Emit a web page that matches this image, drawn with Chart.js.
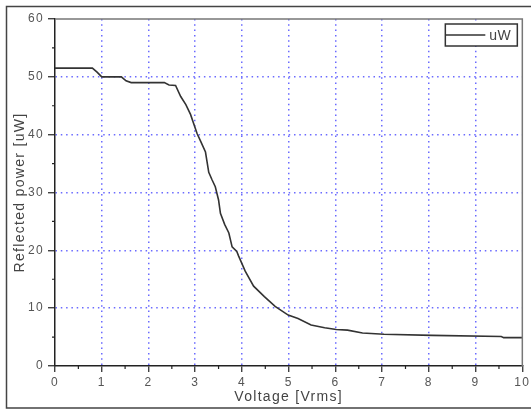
<!DOCTYPE html>
<html lang="en">
<head>
    <title>Reflected power vs voltage</title>
    <script src="https://cdn.jsdelivr.net/npm/chart.js"></script>
    <style>
        body { margin: 0; background: #fff; }
        #wrap { width: 532px; height: 410px; }
    </style>
</head>
<body>
    <div id="wrap">
        <canvas id="powerChart" width="532" height="410"></canvas>
    </div>

    <script>
        // values
        const voltage = [0, 0.8, 0.9, 1.0, 1.42, 1.52, 1.63, 2.34, 2.44, 2.58, 2.69, 2.8, 2.9, 3.04, 3.12, 3.22,
            3.29, 3.36, 3.43, 3.5, 3.54, 3.63, 3.72, 3.79, 3.89, 3.93, 4.07, 4.25, 4.48, 4.71, 4.99, 5.2,
            5.48, 5.77, 6.02, 6.26, 6.58, 7.04, 8.07, 9.55, 9.6, 10];
        const power = [51.5, 51.5, 50.8, 50.0, 50.0, 49.3, 49.0, 49.0, 48.6, 48.5, 46.6, 45.2, 43.5, 40.2, 38.8, 37.0,
            33.5, 32.2, 31.0, 28.7, 26.4, 24.5, 23.0, 20.6, 19.8, 19.0, 16.4, 13.8, 12.0, 10.3, 8.8, 8.2,
            7.1, 6.6, 6.3, 6.2, 5.7, 5.5, 5.3, 5.1, 4.9, 4.9];
        const seriesName = 'uW';
        const xTitle = 'Voltage [Vrms]';
        const yTitle = 'Reflected power [uW]';

        const gridBlue = '#6a6aff';
        const fontFamily = '"Liberation Sans", Arial, sans-serif';

        // frame, top/right box edges, minor ticks and boxed legend
        const decorations = {
            id: 'decorations',
            beforeDraw(chart) {
                // the original plot uses loosely spaced lettering
                chart.ctx.letterSpacing = '1.3px';
            },
            afterDraw(chart) {
                const ctx = chart.ctx;
                const area = chart.chartArea;
                const xs = chart.scales.x;
                const ys = chart.scales.y;
                ctx.save();

                // outer frame
                ctx.strokeStyle = '#444';
                ctx.lineWidth = 1.5;
                ctx.beginPath();
                ctx.moveTo(531, 6.5);
                ctx.lineTo(6.5, 6.5);
                ctx.lineTo(6.5, 408);
                ctx.lineTo(531, 408);
                ctx.stroke();

                // top and right edge of plot box
                ctx.strokeStyle = '#777';
                ctx.lineWidth = 1.5;
                ctx.beginPath();
                ctx.moveTo(area.left, area.top);
                ctx.lineTo(area.right, area.top);
                ctx.lineTo(area.right, area.bottom);
                ctx.stroke();

                // minor ticks
                ctx.strokeStyle = '#222';
                ctx.lineWidth = 1.2;
                ctx.beginPath();
                for (let v = 0.5; v < 10; v += 1) {
                    const px = xs.getPixelForValue(v);
                    ctx.moveTo(px, area.bottom);
                    ctx.lineTo(px, area.bottom + 3);
                }
                for (let v = 5; v < 60; v += 10) {
                    const py = ys.getPixelForValue(v);
                    ctx.moveTo(area.left - 3, py);
                    ctx.lineTo(area.left, py);
                }
                ctx.stroke();

                // legend box
                const bw = 72, bh = 22;
                const bx = area.right - 5 - bw;
                const by = area.top + 5;
                ctx.fillStyle = '#fff';
                ctx.fillRect(bx, by, bw, bh);
                ctx.strokeStyle = '#333';
                ctx.lineWidth = 1.5;
                ctx.strokeRect(bx, by, bw, bh);
                ctx.beginPath();
                ctx.moveTo(bx, by + bh / 2);
                ctx.lineTo(bx + 40, by + bh / 2);
                ctx.stroke();
                ctx.fillStyle = '#444';
                ctx.letterSpacing = '0.5px';
                ctx.font = '14px ' + fontFamily;
                ctx.textBaseline = 'middle';
                ctx.fillText(chart.data.datasets[0].label, bx + 44, by + bh / 2 + 1);

                ctx.restore();
            }
        };

        const powerCtx = document.getElementById('powerChart').getContext('2d');

        let powerChart = new Chart(powerCtx, {
            type: 'line',
            data: {
                datasets: [{
                    label: seriesName,
                    data: voltage.map((v, i) => ({ x: v, y: power[i] })),
                    borderColor: '#333',
                    borderWidth: 1.6,
                    pointRadius: 0,
                    tension: 0,
                    fill: false
                }]
            },
            options: {
                responsive: false,
                animation: false,
                layout: {
                    padding: { left: 6, top: 19, right: 7, bottom: 2 }
                },
                plugins: {
                    legend: { display: false },
                    tooltip: { enabled: false }
                },
                scales: {
                    x: {
                        type: 'linear',
                        min: 0,
                        max: 10,
                        afterFit: (scale) => { scale.height = 42; },
                        ticks: {
                            stepSize: 1,
                            maxRotation: 0,
                            padding: 3,
                            color: '#555',
                            font: { family: fontFamily, size: 12 }
                        },
                        grid: {
                            color: (c) => (c.tick && (c.tick.value === 0 || c.tick.value === 10)) ? 'rgba(0,0,0,0)' : gridBlue,
                            lineWidth: 1.5,
                            tickLength: 6,
                            tickColor: '#222',
                            tickWidth: 1.2,
                            tickBorderDash: []
                        },
                        border: { color: '#222', width: 1.5, dash: [1.5, 3.8] },
                        title: {
                            display: true,
                            text: xTitle,
                            color: '#444',
                            padding: { top: 0, bottom: 2 },
                            font: { family: fontFamily, size: 14 }
                        }
                    },
                    y: {
                        min: 0,
                        max: 60,
                        afterFit: (scale) => { scale.width = 49; },
                        ticks: {
                            stepSize: 10,
                            padding: 4,
                            color: '#555',
                            font: { family: fontFamily, size: 12 }
                        },
                        grid: {
                            color: (c) => (c.tick && (c.tick.value === 0 || c.tick.value === 60)) ? 'rgba(0,0,0,0)' : gridBlue,
                            lineWidth: 1.5,
                            tickLength: 7,
                            tickColor: '#222',
                            tickWidth: 1.2,
                            tickBorderDash: []
                        },
                        border: { color: '#222', width: 1.5, dash: [1.5, 3.8] },
                        title: {
                            display: true,
                            text: yTitle,
                            color: '#444',
                            padding: { top: 6, bottom: 0 },
                            font: { family: fontFamily, size: 14 }
                        }
                    }
                }
            },
            plugins: [decorations]
        });
    </script>
</body>
</html>
